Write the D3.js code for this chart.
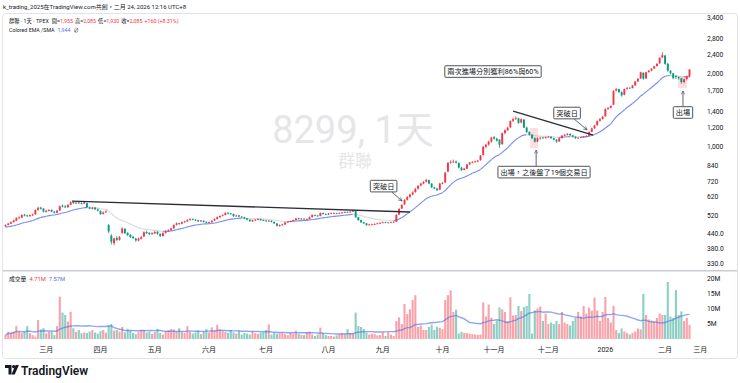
<!DOCTYPE html>
<html><head><meta charset="utf-8">
<script src="https://cdn.jsdelivr.net/npm/d3@7"></script>
<style>
html,body{margin:0;padding:0;background:#fff;}
svg{display:block;font-family:Roboto,"Noto Sans CJK TC",sans-serif;}
</style></head><body>
<svg id="c" width="740" height="383"></svg>
<script>
// ---- DATA (daily bars, index 0..252) ----
const opens=[470,476,481,489,495,508,510,524,521,517,521,526,549,561,556,539,544,549,540,534,546,572,567,563,576,591,584,589,586,583,585,562,555,561,552,543,528,536,475,430,400,420,413,440,458,441,433,425,418,410,417,426,445,441,436,439,446,437,428,441,447,453,461,476,484,481,489,492,499,504,500,498,492,495,490,485,488,496,503,512,519,523,534,531,528,517,521,515,512,506,500,492,498,500,504,498,496,492,495,490,482,471,475,478,487,490,493,498,507,502,505,503,503,512,523,520,518,533,528,525,530,532,533,530,533,535,539,536,540,543,512,498,488,483,475,478,478,480,483,485,488,486,487,488,490,525,556,578,604,621,636,650,671,692,706,718,728,704,680,672,665,706,712,790,862,866,870,858,820,802,812,846,860,866,870,880,925,1000,1022,1050,1095,1080,1070,1025,1140,1172,1205,1280,1305,1310,1260,1295,1200,1150,1120,1085,1050,1085,1092,1085,1096,1100,1085,1070,1052,1086,1110,1120,1130,1115,1100,1085,1090,1095,1100,1110,1152,1192,1228,1280,1302,1335,1432,1448,1490,1705,1730,1680,1640,1735,1752,1748,1792,1862,1915,2020,1915,2035,2062,2105,2155,2210,2335,2380,2200,2060,2010,1960,1940,1920,1850,1905,1955];
const highs=[478,485,492,500,512,516,526,528,524,526,530,552,566,565,558,550,553,551,543,548,572,578,574,580,596,597,593,592,590,598,588,566,565,564,556,546,540,548,480,436,422,428,428,465,462,444,436,430,421,422,428,448,450,444,444,450,448,439,444,452,456,463,479,487,486,492,495,502,507,506,503,500,499,497,492,492,498,506,516,521,526,537,538,533,530,524,523,517,514,508,502,501,503,507,505,501,498,498,497,491,484,478,481,490,493,496,501,509,509,508,507,506,515,526,525,522,536,535,530,533,535,536,534,536,538,541,540,543,549,545,514,500,490,485,481,481,483,486,488,491,490,489,490,492,527,558,580,608,626,640,655,676,695,710,722,738,732,708,684,676,710,715,785,862,880,885,878,862,826,818,850,866,872,876,882,925,1010,1030,1060,1100,1110,1090,1075,1145,1180,1210,1285,1320,1335,1318,1310,1300,1210,1160,1130,1095,1095,1100,1098,1102,1110,1104,1090,1075,1092,1118,1128,1140,1134,1120,1104,1096,1100,1106,1115,1158,1198,1232,1285,1312,1340,1440,1460,1480,1710,1750,1738,1690,1740,1765,1760,1800,1870,1920,2040,2030,2040,2075,2110,2160,2215,2340,2460,2395,2220,2075,2020,1975,1950,1925,1915,1965,2085];
const lows=[466,473,479,486,493,503,508,516,513,514,518,524,545,550,536,535,540,537,530,532,544,562,558,560,574,581,580,580,578,580,560,552,551,549,541,523,525,533,440,395,392,408,410,438,436,428,420,416,405,407,414,424,436,432,433,437,434,424,426,438,445,450,459,473,476,478,485,489,495,497,494,489,490,487,483,482,486,494,501,509,515,521,526,524,514,514,512,508,503,497,490,490,495,497,495,493,490,490,487,480,469,468,472,476,484,488,491,496,500,500,500,499,501,510,517,515,516,525,522,523,528,529,527,528,531,533,533,534,538,509,495,485,480,472,473,475,476,478,481,483,484,484,485,486,489,523,552,575,600,615,630,646,666,686,700,712,700,676,668,656,663,700,710,785,850,858,852,815,795,798,808,840,855,860,862,876,920,985,1010,1040,1070,1050,990,1020,1125,1160,1195,1265,1290,1245,1250,1195,1140,1110,1075,1040,1045,1070,1078,1080,1090,1078,1062,1040,1048,1080,1102,1112,1108,1094,1078,1080,1086,1090,1095,1105,1148,1185,1220,1270,1295,1330,1420,1440,1485,1690,1670,1610,1630,1720,1735,1740,1785,1850,1905,1890,1910,2020,2050,2095,2140,2200,2320,2180,2040,1990,1900,1905,1890,1820,1830,1880,1930];
const closes=[475,482,488,497,508,511,523,520,518,522,525,548,560,555,540,545,548,540,535,545,568,566,562,575,590,585,588,585,582,590,563,556,560,552,545,527,535,540,447,405,418,412,424,460,440,432,424,420,411,418,424,444,440,436,440,445,437,428,440,448,452,460,475,483,480,488,492,498,503,500,498,493,496,490,486,488,495,503,512,518,523,533,530,528,517,520,515,512,506,500,493,498,500,503,498,496,493,495,490,483,472,475,478,487,490,493,498,506,503,505,503,503,512,523,520,518,533,528,525,530,532,533,530,533,535,538,536,540,545,512,498,488,483,475,478,478,480,483,485,488,486,487,488,490,523,554,575,603,620,635,648,670,690,705,716,730,705,680,672,662,705,710,783,860,866,868,860,820,800,812,845,860,866,870,877,920,1000,1020,1050,1090,1080,1060,1020,1137,1170,1200,1277,1300,1315,1255,1300,1200,1150,1120,1085,1050,1085,1090,1085,1095,1100,1085,1070,1050,1085,1110,1120,1130,1115,1100,1085,1090,1095,1100,1110,1150,1190,1225,1277,1300,1330,1430,1445,1475,1700,1730,1680,1630,1730,1750,1745,1790,1860,1910,2030,1910,2030,2060,2100,2150,2200,2330,2390,2200,2060,2010,1920,1940,1920,1850,1900,1955,2085];
const volumes=[1.3,2.4,2.1,2.5,4.3,2.4,2.1,2.4,4.3,1.9,1.3,0.8,6.3,3.2,3.6,1.9,2.4,2.4,1.3,4.3,14.1,8.8,8.0,5.8,9.1,3.6,2.4,3.0,1.9,2.2,2.0,2.5,3.0,2.2,1.8,2.6,3.0,2.1,4.5,5.0,2.8,3.0,2.5,4.0,2.2,3.4,2.8,2.0,1.6,2.3,3.0,3.0,2.2,2.5,1.7,2.4,3.4,2.0,1.5,2.6,3.0,3.3,3.2,2.4,3.6,2.4,2.0,4.3,2.4,1.8,2.2,2.8,1.6,2.4,3.3,2.2,3.9,2.8,4.7,3.3,2.8,2.4,2.0,3.0,2.2,1.8,2.6,1.5,2.0,1.8,1.5,2.6,2.0,1.7,2.0,2.2,3.0,4.9,1.5,2.3,1.8,2.0,2.0,1.6,1.3,2.0,1.7,2.8,1.8,1.4,1.3,2.2,2.5,1.5,1.0,1.5,3.8,2.0,1.3,1.0,1.0,0.8,1.2,1.6,2.0,1.8,3.3,2.0,1.8,8.8,4.3,4.0,3.3,2.0,1.5,1.8,1.6,1.2,1.3,2.3,1.0,2.2,1.5,1.0,6.0,7.2,5.0,11.7,8.3,9.9,13.0,14.6,4.0,4.5,3.0,3.0,4.0,4.8,3.0,4.1,3.7,3.3,13.0,14.6,16.2,9.0,9.8,1.8,2.4,2.0,2.0,1.8,1.6,1.5,1.4,1.5,12.2,7.5,11.5,7.1,5.0,6.0,10.5,9.9,9.0,6.0,13.9,7.8,8.0,11.0,9.3,10.6,11.0,15.0,1.8,9.5,10.2,10.8,6.0,8.5,5.0,5.5,5.0,6.0,5.0,9.0,5.5,5.0,4.5,6.0,7.0,9.0,7.5,11.0,8.5,10.5,9.5,13.8,9.5,6.0,9.0,14.0,7.0,5.5,11.0,3.0,2.0,3.5,2.5,2.0,1.5,2.0,2.5,3.5,3.2,15.0,8.0,6.5,6.2,5.8,7.0,8.5,8.0,8.0,19.0,7.5,7.0,16.3,8.0,9.2,6.0,7.0,4.7];
const emaStart=465;
const monthLabels=["三月","四月","五月","六月","七月","八月","九月","十月","十一月","十二月","2026","二月","三月"];
const monthIndex=[15,35,55,75,96,119,139,161,180,200,221,243,256];
const priceTicks=[3400,2800,2400,2000,1700,1400,1200,1000,840,720,620,520,440,380,330];
const priceTickLabels=["3,400","2,800","2,400","2,000","1,700","1,400","1,200","1,000","840","720","620","520","440.0","380.0","330.0"];
const volTicks=[20,15,10,5];
const volTickLabels=["20M","15M","10M","5M"];
// annotations in data space: [index, price]
const trendLines=[[24.5,597,149,538],[187,1404,216.5,1118]];
const highlightBoxes=[[193.3,1195,196.2,988],[247.8,1959,251,1748]];
const notes=[
 {text:"兩次進場分別獲利86%與60%",i:179.6,p:2044,arrow:null},
 {text:"突破日",i:139.3,p:688,arrow:[142.4,650,146.1,597]},
 {text:"突破日",i:206.9,p:1378,arrow:[209.5,1302,214.3,1173]},
 {text:"出場，之後盤了19個交易日",i:198.4,p:786,arrow:[195.5,833,195.5,969]},
 {text:"出場",i:249.6,p:1385,arrow:[249.6,1473,249.6,1699]}
];

// ---- DRAW ----
const svg=d3.select('#c');
const UP='#f23645',DN='#089981',UPV='#f7a3a9',DNV='#8ccfc4',TXT='#131722',BLUE='#4f6ff0';
const x=d3.scaleLinear().domain([0,252]).range([5.5,689.5]);
const y=d3.scaleLog().domain([310,3532]).range([270,14]);
const yv=d3.scaleLinear().domain([0,20]).range([339,279]);
const idx=d3.range(closes.length);

// frame
svg.append('rect').attr('x',2.5).attr('y',13.5).attr('width',735).attr('height',345).attr('rx',3)
  .attr('fill','none').attr('stroke','#e0e3eb');
svg.append('line').attr('x1',3).attr('x2',737).attr('y1',270.8).attr('y2',270.8).attr('stroke','#c9cbd1').attr('stroke-width',1.6);

const defs=svg.append('defs');
defs.append('clipPath').attr('id','pc').append('rect').attr('x',3).attr('y',14).attr('width',697).attr('height',256);
defs.append('marker').attr('id','ar').attr('viewBox','0 0 10 10').attr('refX',9).attr('refY',5)
 .attr('markerWidth',5).attr('markerHeight',5).attr('orient','auto')
 .append('path').attr('d','M1,1 L9,5 L1,9').attr('fill','none').attr('stroke','#50535e').attr('stroke-width',1.4);

// watermark
svg.append('text').attr('x',353).attr('y',143).attr('text-anchor','middle').attr('font-size',38)
 .attr('fill','#e6e6e8').text('8299, 1天');
svg.append('text').attr('x',355).attr('y',167).attr('text-anchor','middle').attr('font-size',17)
 .attr('fill','#e6e6e8').text('群聯');

const pg=svg.append('g').attr('clip-path','url(#pc)');

// EMA 20
const a=2/21; const ema=[];
closes.forEach((c,i)=>ema.push((i===0?emaStart:ema[i-1])+a*(c-(i===0?emaStart:ema[i-1]))));
for(let i=1;i<ema.length;i++){
  pg.append('line').attr('x1',x(i-1)).attr('x2',x(i)).attr('y1',y(ema[i-1])).attr('y2',y(ema[i]))
   .attr('stroke',ema[i]>=ema[i-1]?'#7189f0':'#d6d8de').attr('stroke-width',1.1);
}

// highlight boxes
highlightBoxes.forEach(b=>{
  pg.append('rect').attr('x',x(b[0])).attr('y',y(b[1])).attr('width',x(b[2])-x(b[0])).attr('height',y(b[3])-y(b[1]))
   .attr('fill','rgba(242,54,69,0.16)');
});

// candles
const cg=pg.append('g');
idx.forEach(i=>{
  const up=closes[i]>=opens[i]; const col=up?UP:DN;
  cg.append('line').attr('x1',x(i)).attr('x2',x(i)).attr('y1',y(highs[i])).attr('y2',y(lows[i])).attr('stroke',col).attr('stroke-width',0.8);
  const t=y(Math.max(opens[i],closes[i])), b=y(Math.min(opens[i],closes[i]));
  cg.append('rect').attr('x',x(i)-0.95).attr('width',1.9).attr('y',t).attr('height',Math.max(0.8,b-t)).attr('fill',col);
});

// trend lines
trendLines.forEach(l=>{
  pg.append('line').attr('x1',x(l[0])).attr('y1',y(l[1])).attr('x2',x(l[2])).attr('y2',y(l[3]))
   .attr('stroke','#2a2e39').attr('stroke-width',1.3);
});

// notes
notes.forEach(n=>{
  if(n.arrow){
    svg.append('line').attr('x1',x(n.arrow[0])).attr('y1',y(n.arrow[1])).attr('x2',x(n.arrow[2])).attr('y2',y(n.arrow[3]))
     .attr('stroke','#50535e').attr('stroke-width',0.9).attr('marker-end','url(#ar)');
  }
  const g=svg.append('g');
  const t=g.append('text').attr('x',x(n.i)).attr('y',y(n.p)+2.6).attr('text-anchor','middle')
    .attr('font-size',7.2).attr('fill',TXT).text(n.text);
  const bb=t.node().getBBox();
  g.insert('rect','text').attr('x',bb.x-2.5).attr('y',y(n.p)-5.8).attr('width',bb.width+5).attr('height',11.6)
    .attr('rx',1).attr('fill','#fff').attr('stroke','#3c3f48').attr('stroke-width',0.9);
});

// price axis labels
priceTicks.forEach((p,k)=>{
  svg.append('text').attr('x',707).attr('y',y(p)+2.4).attr('font-size',6.7).attr('fill',TXT).text(priceTickLabels[k]);
});

// volume
const vg=svg.append('g');
idx.forEach(i=>{
  const up=closes[i]>=opens[i];
  vg.append('rect').attr('x',x(i)-1.05).attr('width',2.1).attr('y',yv(volumes[i])).attr('height',yv(0)-yv(volumes[i]))
   .attr('fill',up?UPV:DNV);
});
const vma=idx.map(i=>d3.mean(volumes.slice(Math.max(0,i-19),i+1)));
svg.append('path').attr('d',d3.line().x((d,i)=>x(i)).y(d=>yv(d))(vma))
 .attr('fill','none').attr('stroke','rgba(80,120,235,0.65)').attr('stroke-width',1.4);
volTicks.forEach((v,k)=>{
  svg.append('text').attr('x',707).attr('y',yv(v)+2.4).attr('font-size',6.7).attr('fill',TXT).text(volTickLabels[k]);
});

// time axis
monthLabels.forEach((m,k)=>{
  svg.append('text').attr('x',x(monthIndex[k])).attr('y',352).attr('text-anchor','middle').attr('font-size',7)
   .attr('fill',TXT).text(m);
});

// header
svg.append('text').attr('x',3).attr('y',9).attr('font-size',6).attr('fill',TXT)
 .text('k_trading_2025在TradingView.com共創，二月 24, 2026 12:16 UTC+8');
function legendRow(x0,yb,fs,parts,gap){
  let cx=x0;
  parts.forEach(s=>{
    const t=svg.append('text').attr('x',cx).attr('y',yb).attr('font-size',fs).attr('fill',s[1]).text(s[0]);
    cx+=t.node().getComputedTextLength()+(s[2]||0);
  });
}
legendRow(9,22.5,5.3,[['群聯 · 1天 · TPEX',TXT,3],['開=',TXT,0],['1,955',UP,2],['高=',TXT,0],['2,085',UP,2],['低=',TXT,0],['1,930',UP,2],['收=',TXT,0],['2,085',UP,2],['+160 (+8.31%)',UP,0]]);
legendRow(9,31.5,5.3,[['Colored EMA /SMA',TXT,3],['1,944',BLUE,3],['∅',TXT,0]]);
legendRow(9,280.5,5.8,[['成交量',TXT,3],['4.71M',UP,3],['7.57M',BLUE,0]]);

// logo
const lg=svg.append('g').attr('fill','#131722');
lg.append('path').attr('d','M5,365 h6.5 v9.5 h-3 v-6.5 h-3.5 z');
lg.append('circle').attr('cx',13.6).attr('cy',366.6).attr('r',1.6);
lg.append('path').attr('d','M15.6,365 h3.3 l-4.2,9.5 h-3.3 z');
svg.append('text').attr('x',21).attr('y',374.5).attr('font-size',12).attr('font-weight',600).attr('fill','#131722').text('TradingView');
</script>
</body></html>
